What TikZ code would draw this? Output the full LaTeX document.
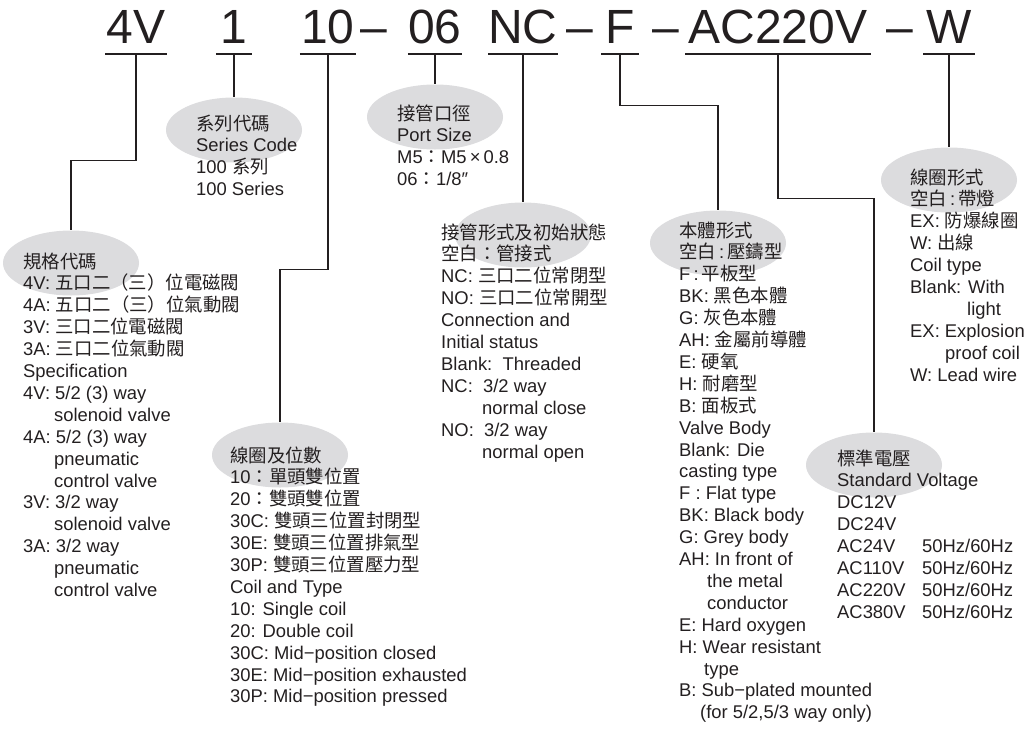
\documentclass[tikz,border=0pt]{standalone}
\usepackage{fontspec}
\setmainfont{Liberation Sans}
\newfontfamily\zhfont{Noto Sans CJK TC}
\newfontfamily\codefam{Liberation Sans}
\usetikzlibrary{positioning,shapes.geometric}
\definecolor{tagfill}{RGB}{220,220,222}
\definecolor{ink}{RGB}{35,31,32}
\newcommand{\zh}[1]{{\zhfont #1}}
\newcommand{\codefont}{\codefam\fontsize{48}{50}\selectfont}
\newcommand{\infofont}{\fontsize{18.4}{21.9}\selectfont\lineskiplimit=-30pt}
\tikzset{
  code/.style={font=\codefont, text=ink, inner sep=0pt, text height=33pt,
               text depth=11pt, anchor=base},
  tag/.style={ellipse, fill=tagfill, minimum width=136pt, minimum height=65pt,
              inner sep=0pt},
  % base of a block = baseline of its last line
  info/.style={align=left, anchor=base west, inner sep=0pt, font=\infofont,
               text=ink},
  lead/.style={draw=ink, line width=1.4pt},
  uline/.style={draw=ink, line width=1.8pt},
}

\begin{document}
\begin{tikzpicture}[x=1pt,y=-1pt]
  \useasboundingbox (0,0) rectangle (1034,734);

  % ordering code
  \node[code, minimum width=61pt] (c4v) at (136,43) {4V};
  \node[code, minimum width=36pt] (c1) at (234,43) {1};
  \node[code, minimum width=56pt] (c10) at (328,43) {10};
  \node[code] (d1) at (374,43) {–};
  \node[code, minimum width=54pt] (c06) at (435,43) {06};
  \node[code, minimum width=68pt] (cnc) at (523,43) {NC};
  \node[code] (d2) at (580,43) {–};
  \node[code, minimum width=37pt] (cf) at (620,43) {F};
  \node[code] (d3) at (666,43) {–};
  \node[code, minimum width=185pt] (cac) at (778,43) {AC220V};
  \node[code] (d4) at (900,43) {–};
  \node[code, minimum width=51pt] (cw) at (949,43) {W};
  \foreach \c in {c4v,c1,c10,c06,cnc,cf,cac,cw}
    \draw[uline] (\c.south west) -- (\c.south east);

  % grey tags
  \node[tag] (espec) at (71,263) {};
  \node[tag] (eseries) at (234,130) {};
  \node[tag] (eport) at (435,117) {};
  \node[tag] (ecoil) at (280,455) {};
  \node[tag] (econn) at (523,235) {};
  \node[tag] (ebody) at (718,243) {};
  \node[tag] (evolt) at (874,465) {};
  \node[tag] (ewire) at (949,180) {};

  \draw[lead] (c4v.south) -- ++(0,106) -| (espec.north);
  \draw[lead] (c1.south) -- (eseries.north);
  \draw[lead] (c10.south) -- ++(0,215) -| (ecoil.north);
  \draw[lead] (c06.south) -- (eport.north);
  \draw[lead] (cnc.south) -- (econn.north);
  \draw[lead] (cf.south) -- ++(0,51) -| (ebody.north);
  \draw[lead] (cac.south) -- ++(0,144) -| (evolt.north);
  \draw[lead] (cw.south) -- (ewire.north);

  % text blocks
  \node[info] (tspec) at (23,596.5) {\zh{規格代碼}\\
    4V: \zh{五口二（三）位電磁閥}\\
    4A: \zh{五口二（三）位氣動閥}\\
    3V: \zh{三口二位電磁閥}\\
    3A: \zh{三口二位氣動閥}\\
    Specification\\
    4V: 5/2 (3) way\\
    \hspace*{31pt}solenoid valve\\
    4A: 5/2 (3) way\\
    \hspace*{31pt}pneumatic\\
    \hspace*{31pt}control valve\\
    3V: 3/2 way\\
    \hspace*{31pt}solenoid valve\\
    3A: 3/2 way\\
    \hspace*{31pt}pneumatic\\
    \hspace*{31pt}control valve};
  \node[info] (tseries) at (196,195.7) {\zh{系列代碼}\\
    Series Code\\
    100 \zh{系列}\\
    100 Series};
  \node[info] (tport) at (397,185.7) {\zh{接管口徑}\\
    Port Size\\
    M5\zh{：}M5\,×\,0.8\\
    06\zh{：}1/8″};
  \node[info] (tcoil) at (230,702.9) {\zh{線圈及位數}\\
    10\zh{：單頭雙位置}\\
    20\zh{：雙頭雙位置}\\
    30C: \zh{雙頭三位置封閉型}\\
    30E: \zh{雙頭三位置排氣型}\\
    30P: \zh{雙頭三位置壓力型}\\
    Coil and Type\\
    10: Single coil\\
    20: Double coil\\
    30C: Mid−position closed\\
    30E: Mid−position exhausted\\
    30P: Mid−position pressed};
  \node[info] (tconn) at (441,458) {\zh{接管形式及初始狀態}\\
    \zh{空白：管接式}\\
    NC: \zh{三口二位常閉型}\\
    NO: \zh{三口二位常開型}\\
    Connection and\\
    Initial status\\
    Blank:~~Threaded\\
    NC:~~3/2 way\\
    \hspace*{41pt}normal close\\
    NO:~~3/2 way\\
    \hspace*{41pt}normal open};
  \node[info] (tbody) at (679,718.8) {\zh{本體形式}\\
    \zh{空白}\thinspace:\thinspace\zh{壓鑄型}\\
    F\thinspace:\thinspace\zh{平板型}\\
    BK: \zh{黑色本體}\\
    G: \zh{灰色本體}\\
    AH: \zh{金屬前導體}\\
    E: \zh{硬氧}\\
    H: \zh{耐磨型}\\
    B: \zh{面板式}\\
    Valve Body\\
    Blank: Die\\
    casting type\\
    F : Flat type\\
    BK: Black body\\
    G: Grey body\\
    AH: In front of\\
    \hspace*{28pt}the metal\\
    \hspace*{28pt}conductor\\
    E: Hard oxygen\\
    H: Wear resistant\\
    \hspace*{25pt}type\\
    B: Sub−plated mounted\\
    \hspace*{21pt}(for 5/2,5/3 way only)};
  \node[info] (tvolt) at (837,618.3) {\zh{標準電壓}\\
    Standard Voltage\\
    DC12V\\
    DC24V\\
    \makebox[85pt][l]{AC24V}50Hz/60Hz\\
    \makebox[85pt][l]{AC110V}50Hz/60Hz\\
    \makebox[85pt][l]{AC220V}50Hz/60Hz\\
    \makebox[85pt][l]{AC380V}50Hz/60Hz};
  \node[info] (twire) at (910,381.1) {\zh{線圈形式}\\
    \zh{空白}\thinspace:\thinspace\zh{帶燈}\\
    EX: \zh{防爆線圈}\\
    W: \zh{出線}\\
    Coil type\\
    Blank: With\\
    \hspace*{57pt}light\\
    EX: Explosion\\
    \hspace*{35pt}proof coil\\
    W: Lead wire};
\end{tikzpicture}
\end{document}
